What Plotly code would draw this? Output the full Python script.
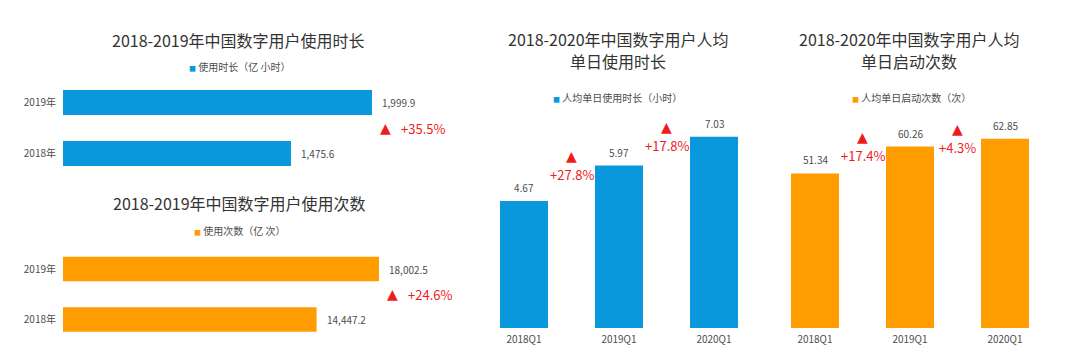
import plotly.graph_objects as go

# ---------------- data ----------------
years = ["2018年", "2019年"]
usage_hours = [1475.6, 1999.9]          # 使用时长（亿 小时）
usage_hours_growth = "+35.5%"
usage_times = [14447.2, 18002.5]        # 使用次数（亿 次）
usage_times_growth = "+24.6%"

quarters = ["2018Q1", "2019Q1", "2020Q1"]
daily_hours = [4.67, 5.97, 7.03]        # 人均单日使用时长（小时）
daily_hours_growth = ["+27.8%", "+17.8%"]
daily_launches = [51.34, 60.26, 62.85]  # 人均单日启动次数（次）
daily_launches_growth = ["+17.4%", "+4.3%"]

# ---------------- style ----------------
BLUE = "#0A98DC"
ORANGE = "#FF9C00"
RED = "#EE1C1C"
TITLE_C = "#333333"
TEXT_C = "#4D4D4D"
FONT = "Noto Sans CJK SC"
W, H = 1080, 363


def xd(a, b):
    return [a / W, b / W]


def yd(top, bottom):
    return [(H - bottom) / H, (H - top) / H]


def py(p):
    return (H - p) / H


fig = go.Figure()

# horizontal bars
fig.add_trace(go.Bar(x=usage_hours, y=years, orientation="h", width=0.49,
                     marker=dict(color=BLUE, line_width=0), xaxis="x", yaxis="y",
                     hoverinfo="skip"))
fig.add_trace(go.Bar(x=usage_times, y=years, orientation="h", width=0.49,
                     marker=dict(color=ORANGE, line_width=0), xaxis="x2", yaxis="y2",
                     hoverinfo="skip"))
# vertical bars
fig.add_trace(go.Bar(x=quarters, y=daily_hours, width=0.505,
                     marker=dict(color=BLUE, line_width=0), xaxis="x3", yaxis="y3",
                     hoverinfo="skip"))
fig.add_trace(go.Bar(x=quarters, y=daily_launches, width=0.505,
                     marker=dict(color=ORANGE, line_width=0), xaxis="x4", yaxis="y4",
                     hoverinfo="skip"))

hidden = dict(showgrid=False, zeroline=False, showline=False, showticklabels=False,
              ticks="", fixedrange=True)
cat_h = dict(showgrid=False, zeroline=False, showline=False, ticks="",
             type="category", categoryorder="array", categoryarray=years,
             tickfont=dict(size=10, color=TEXT_C, family=FONT),
             ticklabelstandoff=6, range=[-0.5, 1.5], fixedrange=True)
cat_v = dict(showgrid=False, zeroline=False, showline=False, ticks="",
             type="category", categoryorder="array", categoryarray=quarters,
             tickfont=dict(size=10, color=TEXT_C, family=FONT),
             ticklabelstandoff=4, range=[-0.5, 2.5], fixedrange=True)

fig.update_layout(
    width=W, height=H, autosize=False,
    margin=dict(l=0, r=0, t=0, b=0),
    paper_bgcolor="white", plot_bgcolor="rgba(0,0,0,0)",
    showlegend=False,
    font=dict(family=FONT, color=TEXT_C),
    xaxis=dict(hidden, domain=xd(63, 464.7), range=[0, 2600], anchor="y"),
    yaxis=dict(cat_h, domain=yd(77, 179), anchor="x"),
    xaxis2=dict(hidden, domain=xd(63, 466.7), range=[0, 23000], anchor="y2"),
    yaxis2=dict(cat_h, domain=yd(243.75, 344.75), anchor="x2"),
    xaxis3=dict(cat_v, domain=xd(476.5, 761.5), anchor="y3"),
    yaxis3=dict(hidden, domain=yd(110.4, 328), range=[0, 8], anchor="x3"),
    xaxis4=dict(cat_v, domain=xd(767.5, 1052.5), anchor="y4"),
    yaxis4=dict(hidden, domain=yd(117.3, 328), range=[0, 70], anchor="x4"),
)

ann = []


def title(text, xc, yc):
    ann.append(dict(text=text, x=xc / W, y=py(yc), xref="paper", yref="paper",
                    xanchor="center", yanchor="middle", showarrow=False,
                    font=dict(size=16, color=TITLE_C, family=FONT)))


def legend(text, color, xc, yc):
    ann.append(dict(text=f"<span style='color:{color};font-size:7px'>■</span> {text}",
                    x=xc / W, y=py(yc), xref="paper", yref="paper",
                    xanchor="center", yanchor="middle", showarrow=False,
                    font=dict(size=10, color=TEXT_C, family=FONT)))


title("2018-2019年中国数字用户使用时长", 238.5, 40)
title("2018-2019年中国数字用户使用次数", 239, 203)
title("2018-2020年中国数字用户人均", 618, 39)
title("单日使用时长", 618, 61)
title("2018-2020年中国数字用户人均", 909, 39)
title("单日启动次数", 909, 61)

legend("使用时长（亿 小时）", BLUE, 239, 67)
legend("使用次数（亿 次）", ORANGE, 239, 230)
legend("人均单日使用时长（小时）", BLUE, 617, 97)
legend("人均单日启动次数（次）", ORANGE, 911, 97)


def growth_h(values, label, xa, ya):
    ann.append(dict(text="▲", x=values[-1], y=0.5, xref=xa, yref=ya,
                    xanchor="center", yanchor="middle", xshift=14, showarrow=False,
                    font=dict(size=14, color=RED, family="DejaVu Sans")))
    ann.append(dict(text=label, x=values[-1], y=0.5, xref=xa, yref=ya,
                    xanchor="left", yanchor="middle", xshift=27, showarrow=False,
                    font=dict(size=13, color=RED, family=FONT)))


def values_h(values, xa, ya):
    for cat, v in zip(years, values):
        ann.append(dict(text=f"{v:,.1f}", x=v, y=cat, xref=xa, yref=ya,
                        xanchor="left", yanchor="middle", xshift=8, showarrow=False,
                        font=dict(size=10, color=TEXT_C, family=FONT)))


def values_v(values, xa, ya):
    for cat, v in zip(quarters, values):
        ann.append(dict(text=f"{v:.2f}", x=cat, y=v, xref=xa, yref=ya,
                        xanchor="center", yanchor="bottom", yshift=4, showarrow=False,
                        font=dict(size=10, color=TEXT_C, family=FONT)))


def growth_v(values, labels, xa, ya):
    for i, lab in enumerate(labels):
        ann.append(dict(text=lab, x=i + 0.5, y=values[i + 1], xref=xa, yref=ya,
                        xanchor="center", yanchor="middle", yshift=-9, showarrow=False,
                        font=dict(size=13, color=RED, family=FONT)))
        ann.append(dict(text="▲", x=i + 0.5, y=values[i + 1], xref=xa, yref=ya,
                        xanchor="center", yanchor="middle", yshift=10, showarrow=False,
                        font=dict(size=14, color=RED, family="DejaVu Sans")))


values_h(usage_hours, "x", "y")
values_h(usage_times, "x2", "y2")
growth_h(usage_hours, usage_hours_growth, "x", "y")
growth_h(usage_times, usage_times_growth, "x2", "y2")
values_v(daily_hours, "x3", "y3")
values_v(daily_launches, "x4", "y4")
growth_v(daily_hours, daily_hours_growth, "x3", "y3")
growth_v(daily_launches, daily_launches_growth, "x4", "y4")

fig.update_layout(annotations=ann)

fig.write_html("out.html", config=dict(displayModeBar=False),
               post_script="document.body.style.margin='0';document.body.style.overflow='hidden';")
